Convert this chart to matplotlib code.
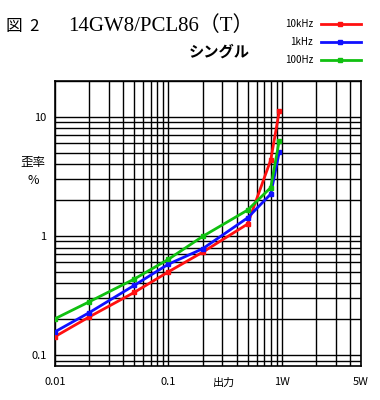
import numpy as np
import matplotlib
matplotlib.use("Agg")
import matplotlib.pyplot as plt
from matplotlib.ticker import LogLocator, NullFormatter, FixedLocator

# output power (W) and distortion (%)
power = [0.01, 0.02, 0.05, 0.1, 0.2, 0.5, 0.8, 0.95]
dist_10k = [0.143, 0.209, 0.336, 0.50, 0.73, 1.26, 4.35, 11.1]
dist_1k = [0.157, 0.227, 0.385, 0.58, 0.78, 1.42, 2.25, 5.06]
dist_100 = [0.202, 0.28, 0.435, 0.637, 0.99, 1.65, 2.55, 6.3]

series = [("10kHz", dist_10k, "#ff1010"), ("1kHz", dist_1k, "#1010ff"), ("100Hz", dist_100, "#10c010")]

xtick_vals = [0.01, 0.1, 1, 5]
xtick_labels = ["0.01", "0.1", "1W", "5W"]
ytick_vals = [0.1, 1, 10]
ytick_labels = ["0.1", "1", "10"]

jp = ["Noto Sans CJK JP", "DejaVu Sans"]
plt.rcParams["font.family"] = jp

fig = plt.figure(figsize=(3.8, 4.0), dpi=100)
ax = fig.add_axes([55 / 380, 34 / 400, 306 / 380, 285 / 400])
ax.set_xscale("log")
ax.set_yscale("log")
ax.set_xlim(0.01, 5)
ax.set_ylim(0.081, 20)

for name, vals, col in series:
    ax.plot(power, vals, color=col, lw=2, marker="s", ms=3.5, zorder=3)

ax.xaxis.set_major_locator(FixedLocator(xtick_vals))
ax.xaxis.set_minor_locator(LogLocator(base=10, subs=np.arange(2, 10)))
ax.yaxis.set_major_locator(FixedLocator(ytick_vals))
ax.yaxis.set_minor_locator(LogLocator(base=10, subs=np.arange(2, 10)))
ax.xaxis.set_minor_formatter(NullFormatter())
ax.yaxis.set_minor_formatter(NullFormatter())
ax.set_xticklabels(xtick_labels)
ax.set_yticklabels(ytick_labels)
ax.tick_params(which="both", length=0, labelsize=8)
ax.tick_params(axis="x", pad=8)
ax.tick_params(axis="y", pad=6)
ax.grid(which="both", color="black", lw=1)
for s in ax.spines.values():
    s.set_linewidth(1.2)
    s.set_color("black")

fig.text(224 / 380, 1 - 383 / 400, "出力", ha="center", va="center", fontsize=8)
fig.text(33 / 380, 1 - 172 / 400, "歪率\n%", ha="center", va="center", fontsize=9, linespacing=1.5)

fig.text(6 / 380, 1 - 26 / 400, "図  2", ha="left", va="center", fontsize=12)
fig.text(68 / 380, 1 - 26 / 400, "14GW8/PCL86（T）", ha="left", va="center", fontsize=15,
         family=["Liberation Serif", "Noto Sans CJK JP"])
fig.text(250 / 380, 1 - 52 / 400, "シングル", ha="right", va="center", fontsize=11, fontweight="bold")

# legend
for i, (name, vals, col) in enumerate(series):
    yy = 1 - (24 + 18 * i) / 400
    fig.text(313 / 380, yy, name, ha="right", va="center", fontsize=7)
    fig.add_artist(plt.Line2D([321 / 380, 361 / 380], [yy, yy], color=col, lw=2))
    fig.add_artist(plt.Line2D([340 / 380], [yy], color=col, marker="s", ms=3.5))

fig.savefig("out.png", dpi=100)
